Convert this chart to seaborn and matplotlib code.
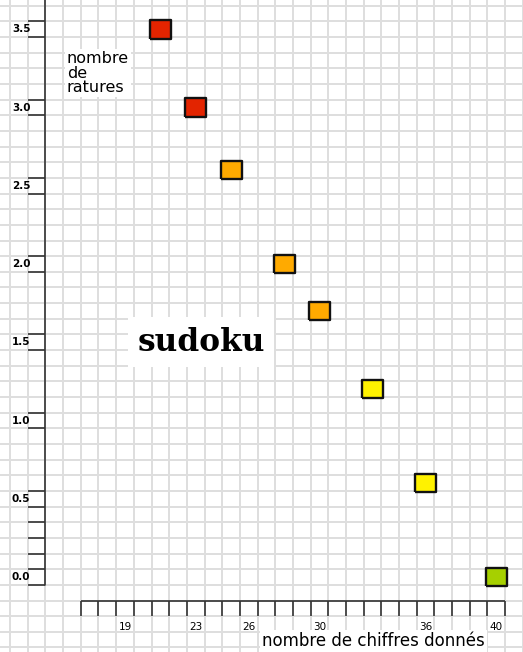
import numpy as np
import pandas as pd
import matplotlib
matplotlib.use('Agg')
import matplotlib.pyplot as plt
import seaborn as sns

# nombre de chiffres donnés vs nombre de ratures
chiffres = [21, 23, 25, 28, 30, 33, 36, 40]
ratures = [3.5, 3.0, 2.6, 2.0, 1.7, 1.2, 0.6, 0.0]
niveau = ['rouge', 'rouge', 'orange', 'orange', 'orange', 'jaune', 'jaune', 'vert']
couleurs = {'rouge': '#e32400', 'orange': '#ffaa00', 'jaune': '#fff200', 'vert': '#a6d000'}

x_labels = [19, 23, 26, 30, 36, 40]
y_labels = [0.0, 0.5, 1.0, 1.5, 2.0, 2.5, 3.0, 3.5]

df = pd.DataFrame({'chiffres': chiffres, 'ratures': ratures, 'niveau': niveau})

sns.set_style('white')
plt.rcParams['font.family'] = ['DejaVu Sans']
plt.rcParams['text.color'] = 'black'

fig = plt.figure(figsize=(5.23, 6.52), dpi=100)
ax = fig.add_axes([0, 0, 1, 1])
ax.set_xlim(11.93, 41.51)
ax.set_ylim(-0.479, 3.687)
ax.set_axis_off()

# grid paper
grid_col = '#dedede'
for xv in np.arange(12.5, 42, 1):
    ax.axvline(xv, color=grid_col, lw=1.4, zorder=0)
for yv in np.arange(-0.45, 3.7, 0.1):
    ax.axhline(yv, color=grid_col, lw=1.4, zorder=0)

axis_col = '#333333'
# y axis
ax.plot([14.5, 14.5], [-0.05, 3.7], color=axis_col, lw=1.2, zorder=2)
tick_ys = sorted(set([round(v + d, 2) for v in y_labels for d in (-0.05, 0.05)] +
                     [0.15, 0.25, 0.35]))
ax.hlines(tick_ys, 13.5, 14.5, color=axis_col, lw=1.2, zorder=2)
for v in y_labels:
    ax.text(12.6, v, f'{v:.1f}', fontsize=7.5, fontweight='bold', va='center', ha='left', zorder=3)

# x axis
ax.hlines(-0.15, 16.5, 40.5, color=axis_col, lw=1.2, zorder=2)
ax.vlines(np.arange(16.5, 41, 1), -0.25, -0.15, color=axis_col, lw=1.2, zorder=2)
for v in x_labels:
    ax.text(v, -0.322, str(v), fontsize=7.5, ha='center', va='center', zorder=3)

# titles
white = dict(facecolor='white', edgecolor='none', pad=1.5)
ax.text(26.75, -0.41, 'nombre de chiffres donnés', fontsize=12, ha='left', va='center',
        bbox=white, zorder=3)
ax.text(15.7, 3.36, 'nombre\nde\nratures', fontsize=11.5, ha='left', va='top',
        linespacing=0.95, bbox=white, zorder=3)
ax.text(23.3, 1.50, 'sudoku', fontsize=22.5, fontweight='bold', family='DejaVu Serif',
        ha='center', va='center', bbox=dict(facecolor='white', edgecolor='none', pad=7), zorder=3)

# points
rect = [(-1, -0.88), (1, -0.88), (1, 0.88), (-1, 0.88), (-1, -0.88)]
sns.scatterplot(data=df, x='chiffres', y='ratures', hue='niveau', palette=couleurs,
                marker=rect, s=230, edgecolor='#111111', linewidth=1.7,
                legend=False, ax=ax, zorder=4)
ax.set_xlim(11.93, 41.51)
ax.set_ylim(-0.479, 3.687)

fig.savefig('out.png', dpi=100)
